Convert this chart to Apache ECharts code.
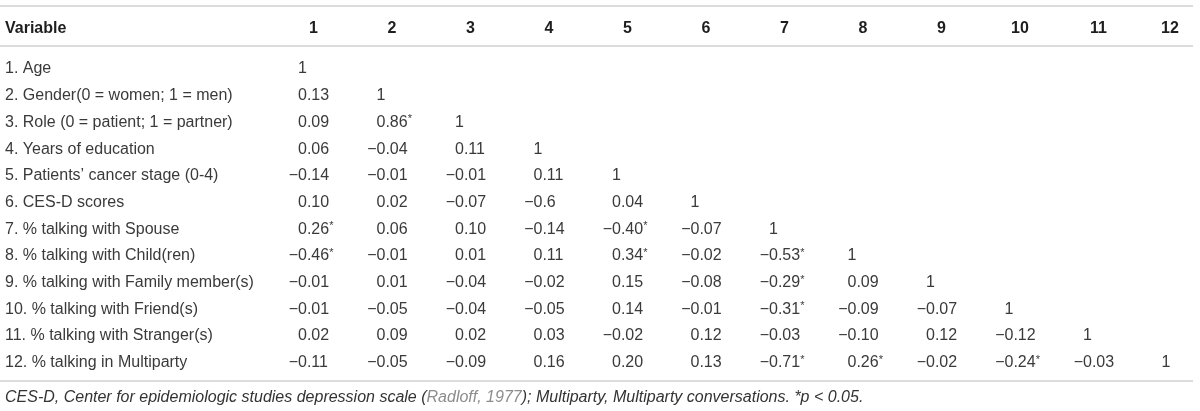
<!DOCTYPE html>
<html>
<head>
<meta charset="utf-8">
<script src="https://cdn.jsdelivr.net/npm/echarts@6/dist/echarts.min.js"></script>
<style>html,body{margin:0;padding:0;background:#fff}#c{width:1200px;height:411px}</style>
</head>
<body>
<div id="c"></div>
<script>
// ---- data ----
var headerLabel = 'Variable';
var columns = ['1','2','3','4','5','6','7','8','9','10','11','12'];
var variables = [
  '1. Age',
  '2. Gender(0 = women; 1 = men)',
  '3. Role (0 = patient; 1 = partner)',
  '4. Years of education',
  "5. Patients\u2019 cancer stage (0-4)",
  '6. CES-D scores',
  '7. % talking with Spouse',
  '8. % talking with Child(ren)',
  '9. % talking with Family member(s)',
  '10. % talking with Friend(s)',
  '11. % talking with Stranger(s)',
  '12. % talking in Multiparty'
];
// lower-triangle correlations as printed; "*" marks p < 0.05
var row1  = ['1'];
var row2  = ['0.13','1'];
var row3  = ['0.09','0.86*','1'];
var row4  = ['0.06','-0.04','0.11','1'];
var row5  = ['-0.14','-0.01','-0.01','0.11','1'];
var row6  = ['0.10','0.02','-0.07','-0.6','0.04','1'];
var row7  = ['0.26*','0.06','0.10','-0.14','-0.40*','-0.07','1'];
var row8  = ['-0.46*','-0.01','0.01','0.11','0.34*','-0.02','-0.53*','1'];
var row9  = ['-0.01','0.01','-0.04','-0.02','0.15','-0.08','-0.29*','0.09','1'];
var row10 = ['-0.01','-0.05','-0.04','-0.05','0.14','-0.01','-0.31*','-0.09','-0.07','1'];
var row11 = ['0.02','0.09','0.02','0.03','-0.02','0.12','-0.03','-0.10','0.12','-0.12','1'];
var row12 = ['-0.11','-0.05','-0.09','0.16','0.20','0.13','-0.71*','0.26*','-0.02','-0.24*','-0.03','1'];
var rows = [row1,row2,row3,row4,row5,row6,row7,row8,row9,row10,row11,row12];
var footnote = 'CES-D, Center for epidemiologic studies depression scale (';
var footRef = 'Radloff, 1977';
var footEnd = '); Multiparty, Multiparty conversations. *p < 0.05.';

// ---- build cells ----
var cells = [], cellText = [];
rows.forEach(function (r, ri) {
  r.forEach(function (v, ci) {
    cells.push([ci, ri]);
    cellText.push(v);
  });
});

var FONT = '"Liberation Sans", Arial, Helvetica, sans-serif';
var TXT = '#3a3a3a';
var chart = echarts.init(document.getElementById('c'), null, {renderer: 'canvas'});

chart.setOption({
  backgroundColor: '#fff',
  animation: false,
  grid: {left: 313.5, width: 863.5, top: 55.65, height: 320.4},
  xAxis: {
    type: 'category', data: columns, position: 'top', boundaryGap: false,
    axisLine: {show: false}, axisTick: {show: false}, splitLine: {show: false},
    axisLabel: {margin: 26.6, verticalAlign: 'middle', fontFamily: FONT, fontSize: 16,
                fontWeight: 'bold', color: '#1e1e1e', interval: 0,
                formatter: function (v, i) { return i === columns.length - 1 ? '{l|' + v + '}' : v; },
                rich: {l: {fontFamily: FONT, fontSize: 16, fontWeight: 'bold', color: '#1e1e1e', padding: [0, 14, 0, 0]}}}
  },
  yAxis: {
    type: 'category', data: variables, inverse: true,
    axisLine: {show: false}, axisTick: {show: false}, splitLine: {show: false},
    axisLabel: {align: 'left', margin: 308.5, fontFamily: FONT, fontSize: 16, color: TXT, interval: 0}
  },
  title: {
    left: 5, top: 390, padding: 0,
    text: '{i|' + footnote + '}{r|' + footRef + '}{i|' + footEnd + '}',
    textStyle: {
      fontWeight: 'normal',
      rich: {
        i: {fontFamily: FONT, fontSize: 16, fontStyle: 'italic', fontWeight: 'normal', color: '#333'},
        r: {fontFamily: FONT, fontSize: 16, fontStyle: 'italic', fontWeight: 'normal', color: '#8c8c8c'}
      }
    }
  },
  graphic: [
    {type: 'line', shape: {x1: 0, y1: 6, x2: 1193, y2: 6}, style: {stroke: '#dcdcdc', lineWidth: 2}},
    {type: 'line', shape: {x1: 0, y1: 46, x2: 1193, y2: 46}, style: {stroke: '#dcdcdc', lineWidth: 2}},
    {type: 'line', shape: {x1: 0, y1: 381, x2: 1193, y2: 381}, style: {stroke: '#dcdcdc', lineWidth: 2}},
    {type: 'text', left: 5, top: 21, style: {text: headerLabel, fontFamily: FONT, fontSize: 16,
      fontWeight: 'bold', fill: '#1e1e1e'}}
  ],
  series: [{
    type: 'custom',
    coordinateSystem: 'cartesian2d',
    data: cells,
    renderItem: function (params, api) {
      var p = api.coord([api.value(0), api.value(1)]);
      var t = cellText[params.dataIndex];
      var star = t.indexOf('*') >= 0;
      t = t.replace('*', '');
      var neg = t.charAt(0) === '-';
      if (neg) t = t.slice(1);
      var dot = t.indexOf('.');
      var intPart = (neg ? '\u2212' : '') + (dot >= 0 ? t.slice(0, dot) : t);
      var frac = dot >= 0 ? t.slice(dot) : '';
      var ax = p[0] - 6.6; // decimal anchor
      var children = [{
        type: 'text', x: ax, y: p[1],
        style: {text: intPart, fontFamily: FONT, fontSize: 16, fill: TXT,
                align: 'right', verticalAlign: 'middle'}
      }];
      if (frac || star) {
        children.push({
          type: 'text', x: ax, y: p[1],
          style: {text: frac + (star ? '{s|*}' : ''), fontFamily: FONT, fontSize: 16, fill: TXT,
                  align: 'left', verticalAlign: 'middle',
                  rich: {s: {fontFamily: FONT, fontSize: 11, fill: TXT, verticalAlign: 'top', padding: [0, 0, 6, 0]}}}
        });
      }
      return {type: 'group', children: children};
    }
  }]
});
</script>
</body>
</html>
